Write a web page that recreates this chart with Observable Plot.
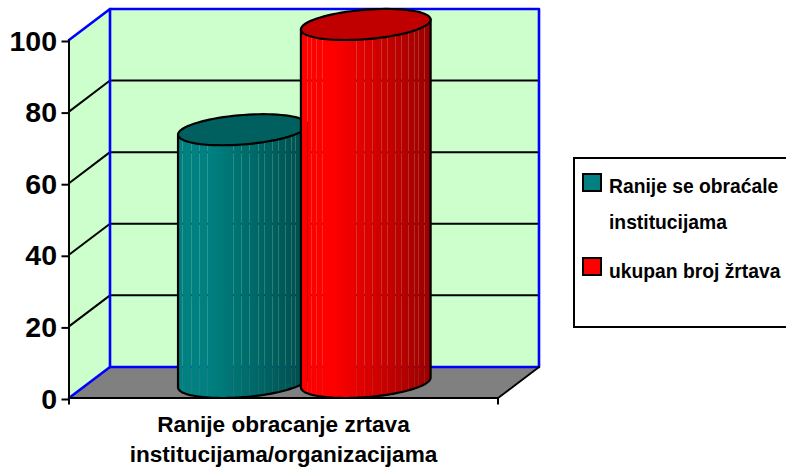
<!DOCTYPE html>
<html>
<head>
<meta charset="utf-8">
<script src="https://cdn.jsdelivr.net/npm/d3@7"></script>
<script src="https://cdn.jsdelivr.net/npm/@observablehq/plot@0.6"></script>
<style>
html,body{margin:0;padding:0;background:#fff;overflow:hidden}
#wrap{position:relative;width:786px;height:467px;overflow:hidden;font-family:"Liberation Sans",Arial,sans-serif;font-weight:bold;color:#000}
#legend{position:absolute;left:573px;top:157px;width:230px;height:167px;border:2px solid #000;box-sizing:content-box;font-size:19.3px}
.sw{position:absolute;left:7px;width:16px;height:15px;border:2px solid #000}
.lb{position:absolute;left:34px;white-space:nowrap;line-height:20px}
</style>
</head>
<body>
<div id="wrap"><div id="chart"></div><div id="legend"></div></div>
<script>
const categories = ["Ranije obracanje zrtava\ninstitucijama/organizacijama"];
const seriesNames = ["Ranije se obraćale\ninstitucijama", "ukupan broj žrtava"];
const seriesValues = [70.6, 100];
const seriesColors = [[0, 128, 128], [255, 0, 0]];
const capColors = ["#006060", "#c00000"];
const centers = [0.3575, 0.644];          // position of each cylinder along the floor
const radius = 0.1434;                     // floor units
const yTicks = [0, 20, 40, 60, 80, 100];
const gridTicks = [20, 40, 60, 80];
// depth of the 3-D box expressed in data units
const depthX = 41 / 429, depthY = 8.67;
// hairline gaps between the facets, as a share of the cylinder's width
const gaps = [[.03,.11,.17,.23,.43,.49,.55,.62,.67,.73,.78,.83,.88,.91,.95],
              [.05,.085,.12,.17,.43,.49,.55,.62,.67,.73,.78,.83,.88,.91,.95]];

const P = (u, v, d) => ({x: u + d * depthX, y: v + d * depthY});
const th0 = Math.atan2(0.5 * depthX, radius);
const A = Math.hypot(0.5 * depthX, radius);

function strips(i) {
  const n = 130, out = [], [r, g, b] = seriesColors[i], val = seriesValues[i];
  const gapIdx = new Set(gaps[i].map(t => Math.round(t * n)));
  const dAt = s => 0.5 + 0.5 * Math.sin(th0 - Math.acos(Math.max(-1, Math.min(1, s / A))));
  const cx = centers[i] + 0.5 * depthX;
  for (let k = 0; k < n; k++) {
    const t = k / n, f = 1 - 0.4 * Math.max(0, (t - 0.25) / 0.75);
    const a = gapIdx.has(k) ? 0.8 : 1;
    const col = `rgba(${r * f | 0},${g * f | 0},${b * f | 0},${a})`;
    for (const e of [k, k + 1]) {
      const s = -A + 2 * A * e / n, d = dAt(s);
      out.push({strip: k, x: cx + s, b: d * depthY, t: val + d * depthY, col});
    }
  }
  return out;
}
function ring(i, v, from, to, n = 80) {
  const r = [];
  for (let k = 0; k <= n; k++) {
    const th = from + (to - from) * k / n;
    r.push(P(centers[i] + radius * Math.cos(th), v, 0.5 + 0.5 * Math.sin(th)));
  }
  return r;
}
function outline(i) {
  const top = ring(i, seriesValues[i], th0 - Math.PI, th0);
  const bot = ring(i, 0, th0 - Math.PI, th0);
  return [top[0], ...bot, top[top.length - 1]];
}
const gridRows = gridTicks.flatMap(v => [
  {v, ...P(0, v, 0)}, {v, ...P(0, v, 1)}, {v, ...P(1, v, 1)}
]);
const blue = "#0000ff";
const edge = (pts, stroke, w) => Plot.line(pts, {x: "x", y: "y", stroke, strokeWidth: w});

const cyl = i => [
  Plot.area(strips(i), {x1: "x", y1: "b", y2: "t", z: "strip", fill: "col", shapeRendering: "crispEdges"}),
  Plot.line(outline(i), {x: "x", y: "y", stroke: "#000", strokeWidth: 2.2}),
  Plot.line(ring(i, seriesValues[i], 0, 2 * Math.PI), {x: "x", y: "y", fill: capColors[i], stroke: "#000", strokeWidth: 2.2})
];

const chart = Plot.plot({
  width: 786, height: 467,
  marginLeft: 68.5, marginRight: 288.5, marginTop: 39.5, marginBottom: 69.5,
  x: {domain: [0, 1], axis: null},
  y: {domain: [0, 100], axis: null},
  color: {type: "identity"},
  style: {fontFamily: '"Liberation Sans",Arial,sans-serif', background: "transparent", overflow: "visible"},
  marks: [
    // floor
    Plot.area([
      {a: P(0,0,0), b: P(1,0,0)}, {a: P(0,0,1), b: P(1,0,1)}
    ], {x1: d => d.a.x, y1: d => d.a.y, x2: d => d.b.x, y2: d => d.b.y, fill: "#808080"}),
    // back wall
    Plot.area([{x: P(0,0,1).x, b: depthY, t: 100 + depthY}, {x: P(1,0,1).x, b: depthY, t: 100 + depthY}],
      {x1: "x", y1: "b", y2: "t", fill: "#ccffcc"}),
    // side wall
    Plot.area([{x: 0, b: 0, t: 100}, {x: depthX, b: depthY, t: 100 + depthY}],
      {x1: "x", y1: "b", y2: "t", fill: "#ccffcc"}),
    // gridlines
    Plot.line(gridRows, {x: "x", y: "y", z: "v", stroke: "#000", strokeWidth: 2}),
    // blue frame
    edge([P(0,100,0), P(0,100,1), P(1,100,1), P(1,0,1), P(0,0,1), P(0,0,0)], blue, 2.6),
    edge([P(0,100,1), P(0,0,1)], blue, 2.6),
    // front floor edges
    edge([P(0,0,0), P(1,0,0), P(1,0,1)], "#000", 2),
    // axes
    Plot.ruleX([0], {y1: 0, y2: 100, stroke: "#000", strokeWidth: 2}),
    Plot.axisY({ticks: yTicks, tickSize: 7, tickPadding: 5, dy: 1.5, strokeWidth: 2, fontSize: 28.5, fontWeight: "bold", label: null, color: "#000", stroke: "#000"}),
    Plot.axisX({ticks: [0, 1], tickSize: 7, strokeWidth: 2, tickFormat: () => "", label: null, stroke: "#000"}),
    Plot.axisX({ticks: [0.5], tickSize: 0, tickPadding: 13, tickFormat: () => categories[0], label: null,
      fontSize: 22.6, fontWeight: "bold", lineHeight: 1.33, lineAnchor: "top", textOverflow: null, color: "#000"}),
    ...cyl(0), ...cyl(1)
  ]
});
document.getElementById("chart").appendChild(chart);

const legend = document.getElementById("legend");
const rows = [
  {sw: 14, col: `rgb(${seriesColors[0]})`, lines: seriesNames[0].split("\n"), tops: [18, 54]},
  {sw: 98, col: `rgb(${seriesColors[1]})`, lines: seriesNames[1].split("\n"), tops: [103]}
];
for (const r of rows) {
  const s = document.createElement("div"); s.className = "sw"; s.style.top = r.sw + "px"; s.style.background = r.col; legend.appendChild(s);
  r.lines.forEach((t, i) => {
    const l = document.createElement("div"); l.className = "lb"; l.style.top = r.tops[i] + "px"; l.textContent = t; legend.appendChild(l);
  });
}
</script>
</body>
</html>
